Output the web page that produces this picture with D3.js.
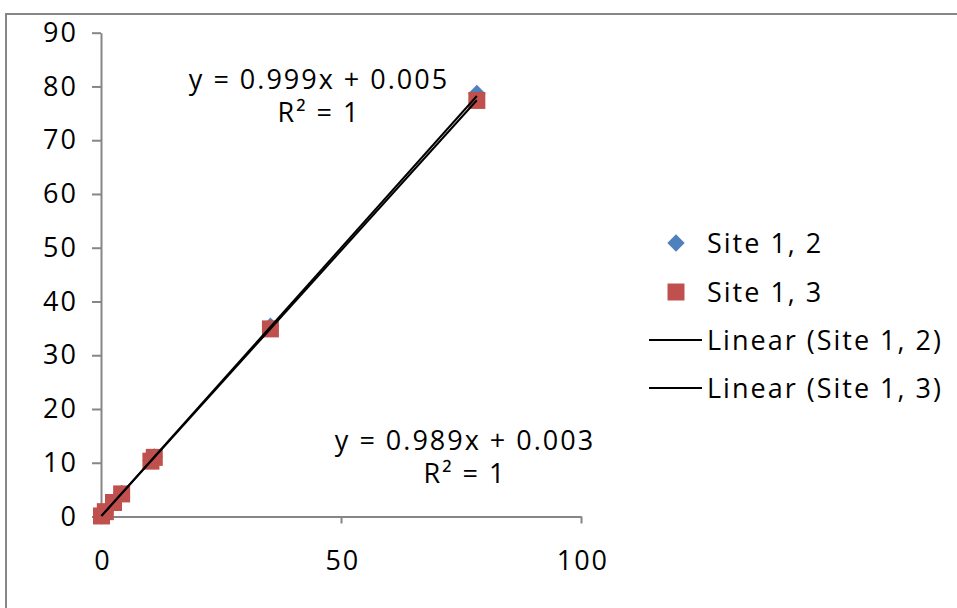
<!DOCTYPE html>
<html>
<head>
<meta charset="utf-8">
<script src="https://cdn.jsdelivr.net/npm/d3@7"></script>
<style>
  body { margin: 0; background: #fff; }
  svg text { font-family: "Open Sans", sans-serif; font-size: 27px; fill: #000; letter-spacing: 2px; }
</style>
</head>
<body>
<div id="chart"></div>
<script>
// values
const xVals = [0.1, 0.9, 2.6, 4.3, 10.4, 11.1, 35.3, 78.3]
const site12 = [0.1, 0.9, 2.6, 4.3, 10.4, 11.1, 35.4, 78.7]
const site13 = [0.1, 0.9, 2.6, 4.2, 10.3, 11.0, 34.9, 77.4]
const xTicks = [0, 50, 100]
const yTicks = [0, 10, 20, 30, 40, 50, 60, 70, 80, 90]
const fits = [
    {name: "Site 1, 2", slope: 0.999, intercept: 0.005, eq: "y = 0.999x + 0.005"},
    {name: "Site 1, 3", slope: 0.989, intercept: 0.003, eq: "y = 0.989x + 0.003"}
]
const seriesNames = ["Site 1, 2", "Site 1, 3"]

const W = 957, H = 608
const svg = d3.select("#chart").append("svg")
    .attr("width", W)
    .attr("height", H)

// chart area border (right and bottom are cut off)
svg.append("path")
    .attr("d", "M6,608V14H957")
    .attr("fill", "none")
    .attr("stroke", "#868686")
    .attr("stroke-width", 2)

var xScale = d3.scaleLinear().domain([0, 100]).range([101, 581])
var yScale = d3.scaleLinear().domain([0, 90]).range([516.5, 32.7])

var yAxis = svg.append("g")
    .attr("transform", "translate(101,0)")
    .call(d3.axisLeft(yScale).tickValues(yTicks).tickSize(9).tickPadding(14).tickSizeOuter(0))
var xAxis = svg.append("g")
    .attr("transform", "translate(0,516.5)")
    .call(d3.axisBottom(xScale).tickValues(xTicks).tickSize(7).tickPadding(27).tickSizeOuter(0))

svg.selectAll(".domain, .tick line")
    .attr("stroke", "#868686")
    .attr("stroke-width", 2)
svg.selectAll(".tick text")
    .attr("font-family", null)
    .attr("font-size", null)
    .attr("fill", "#000")
xAxis.selectAll(".tick text").attr("dx", "0.05em")

// markers
var pts12 = xVals.map((x, i) => ({x: x, y: site12[i]}))
var pts13 = xVals.map((x, i) => ({x: x, y: site13[i]}))

var diamond = d3.symbol(d3.symbolSquare, 150)
var square = d3.symbol(d3.symbolSquare, 289)

svg.append("g").selectAll("path").data(pts12).enter()
    .append("path")
    .attr("d", diamond)
    .attr("transform", d => "translate(" + xScale(d.x) + "," + yScale(d.y) + ") rotate(45)")
    .attr("fill", "#4F81BD")

svg.append("g").selectAll("path").data(pts13).enter()
    .append("path")
    .attr("d", square)
    .attr("transform", d => "translate(" + xScale(d.x) + "," + yScale(d.y) + ")")
    .attr("fill", "#C0504D")

// trend lines
var x0 = d3.min(xVals), x1 = d3.max(xVals)
svg.append("g").selectAll("line").data(fits).enter()
    .append("line")
    .attr("x1", xScale(x0))
    .attr("y1", d => yScale(d.slope * x0 + d.intercept))
    .attr("x2", xScale(x1))
    .attr("y2", d => yScale(d.slope * x1 + d.intercept))
    .attr("stroke", "#000")
    .attr("stroke-width", 2)

// equation labels
var eqPos = [{x: 319, y: 89}, {x: 465, y: 450}]
fits.forEach(function(f, i) {
    var t = svg.append("text")
        .attr("text-anchor", "middle")
        .attr("x", eqPos[i].x)
        .attr("y", eqPos[i].y)
    t.append("tspan").attr("x", eqPos[i].x).text(f.eq)
    t.append("tspan").attr("x", eqPos[i].x).attr("dy", 33).text("R² = 1")
})

// legend
var legend = svg.append("g")
var rowY = [243, 292, 340, 388]
legend.append("path")
    .attr("d", diamond)
    .attr("transform", "translate(676," + rowY[0] + ") rotate(45)")
    .attr("fill", "#4F81BD")
legend.append("path")
    .attr("d", square)
    .attr("transform", "translate(676," + rowY[1] + ")")
    .attr("fill", "#C0504D")
fits.forEach(function(f, i) {
    legend.append("line")
        .attr("x1", 649).attr("x2", 702)
        .attr("y1", rowY[i + 2]).attr("y2", rowY[i + 2])
        .attr("stroke", "#000")
        .attr("stroke-width", 2)
})
var labels = seriesNames.concat(fits.map(f => "Linear (" + f.name + ")"))
legend.selectAll("text.lab").data(labels).enter()
    .append("text")
    .attr("class", "lab")
    .attr("x", 707)
    .attr("y", (d, i) => rowY[i])
    .attr("dy", "0.36em")
    .text(d => d)
</script>
</body>
</html>
